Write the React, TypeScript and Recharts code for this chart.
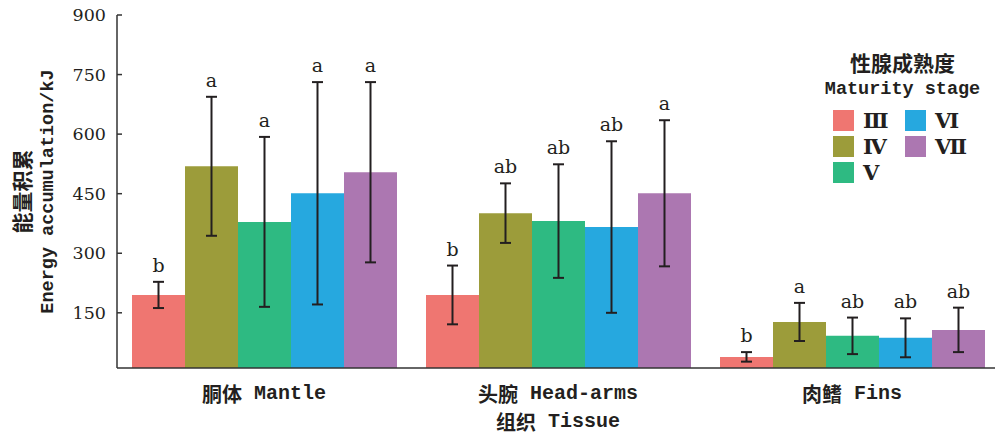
import { Bar, BarChart, ErrorBar, LabelList, XAxis, YAxis } from "recharts";

const TISSUES = ["胴体 Mantle", "头腕 Head-arms", "肉鳍 Fins"];
const STAGES = ["Ⅲ", "Ⅳ", "Ⅴ", "Ⅵ", "Ⅶ"];
const COLORS = ["#EF7671", "#9C9C3A", "#2EBA82", "#26A8DF", "#AC77B1"];

// mean per stage, one value per tissue
const MEANS = [
  [195, 195, 39],
  [519, 401, 127],
  [379, 381, 92],
  [451, 366, 87],
  [504, 451, 107],
];
const ERRORS = [
  [33, 74, 12],
  [175, 75, 48],
  [214, 143, 46],
  [280, 216, 49],
  [227, 184, 56],
];
const LETTERS = [
  ["b", "b", "b"],
  ["a", "ab", "a"],
  ["a", "ab", "ab"],
  ["a", "ab", "ab"],
  ["a", "a", "ab"],
];
const Y_TICKS = [150, 300, 450, 600, 750, 900];
const Y_MIN = 11;

const CJK = "'Noto Sans CJK SC', sans-serif";
const MONO = "'Liberation Mono', monospace";
const SERIF = "'DejaVu Serif', serif";
const INK = "#231F20";

const data = TISSUES.map((tissue, i) => {
  const row: Record<string, string | number> = { tissue };
  STAGES.forEach((_, s) => {
    row[`m${s}`] = MEANS[s][i];
    row[`e${s}`] = ERRORS[s][i];
  });
  return row;
});

function letterLabel(s: number) {
  return (props: any) => {
    const vb = props.viewBox ?? props;
    const { x, y, width, height } = vb;
    const index = props.index ?? 0;
    const mean = MEANS[s][index];
    const pxPerUnit = height / (mean - Y_MIN);
    const top = y - ERRORS[s][index] * pxPerUnit;
    return (
      <text x={x + width / 2} y={top - 10} textAnchor="middle" fontFamily={SERIF} fontSize={19} fill={INK}>
        {LETTERS[s][index]}
      </text>
    );
  };
}

function TissueTick({ x, y, payload }: any) {
  const [zh, en] = String(payload.value).split(" ");
  return (
    <text x={x} y={y + 25} textAnchor="middle" dominantBaseline="central" fontSize={20} fill={INK} style={{ whiteSpace: "pre" }}>
      <tspan fontFamily={CJK} fontWeight={700}>{zh}</tspan>
      <tspan fontFamily={MONO} fontWeight={700}>{" " + en}</tspan>
    </text>
  );
}

function YTitle(props: any) {
  const vb = props.viewBox;
  const cy = vb.y + vb.height / 2;
  const x1 = vb.x - 36;
  const x2 = vb.x - 9;
  return (
    <g>
      <text x={x1} y={cy} transform={`rotate(-90 ${x1} ${cy})`} textAnchor="middle" dominantBaseline="central" fontFamily={CJK} fontWeight={700} fontSize={21} fill={INK}>
        能量积累
      </text>
      <text x={x2} y={cy} transform={`rotate(-90 ${x2} ${cy})`} textAnchor="middle" dominantBaseline="central" fontFamily={MONO} fontWeight={700} fontSize={18.5} fill={INK}>
        Energy accumulation/kJ
      </text>
    </g>
  );
}

function XTitle(props: any) {
  const vb = props.viewBox;
  return (
    <text x={vb.x + vb.width / 2} y={421} textAnchor="middle" dominantBaseline="central" fontSize={20} fill={INK} style={{ whiteSpace: "pre" }}>
      <tspan fontFamily={CJK} fontWeight={700}>组织</tspan>
      <tspan fontFamily={MONO} fontWeight={700}>{" Tissue"}</tspan>
    </text>
  );
}

function StageLegend() {
  return (
    <div style={{ position: "absolute", left: 810, top: 48, width: 185, color: INK }}>
      <div style={{ textAlign: "center", fontFamily: CJK, fontWeight: 700, fontSize: 21, lineHeight: "28px" }}>性腺成熟度</div>
      <div style={{ textAlign: "center", fontFamily: MONO, fontWeight: 700, fontSize: 18.5, lineHeight: "28px" }}>Maturity stage</div>
      {STAGES.map((st, s) => {
        const col = s < 3 ? 0 : 1;
        const row = s < 3 ? s : s - 3;
        return (
          <div key={st} style={{ position: "absolute", left: 23 + col * 72, top: 62 + row * 26, display: "flex", alignItems: "center" }}>
            <span style={{ width: 21, height: 21, background: COLORS[s], display: "inline-block" }} />
            <span style={{ marginLeft: 9, fontFamily: SERIF, fontWeight: 700, fontSize: 21, lineHeight: "21px" }}>{st}</span>
          </div>
        );
      })}
    </div>
  );
}

export default function App() {
  return (
    <div style={{ position: "absolute", left: 0, top: 0, width: 995, height: 439, background: "#fff" }}>
      <BarChart width={995} height={439} data={data} margin={{ top: 15, right: -4, left: 57, bottom: 41 }} barGap={0}>
        <XAxis
          dataKey="tissue"
          height={30}
          tickLine={false}
          tickSize={0}
          tickMargin={0}
          axisLine={{ stroke: "#333", strokeWidth: 1.5 }}
          tick={<TissueTick />}
          label={{ content: (p: any) => <XTitle {...p} /> }}
        />
        <YAxis
          type="number"
          width={60}
          domain={[Y_MIN, 900]}
          ticks={Y_TICKS}
          allowDataOverflow
          axisLine={{ stroke: "#333", strokeWidth: 1.5 }}
          tickLine={{ stroke: "#333", strokeWidth: 1.5 }}
          tickSize={-5}
          tickMargin={16}
          tick={{ fontFamily: SERIF, fontSize: 17.5, fill: INK }}
          label={{ content: (p: any) => <YTitle {...p} /> }}
        />
        {STAGES.map((st, s) => (
          <Bar key={st} dataKey={`m${s}`} name={st} fill={COLORS[s]} barSize={53} isAnimationActive={false}>
            <ErrorBar dataKey={`e${s}`} width={5.5} strokeWidth={2} stroke={INK} direction="y" />
            <LabelList dataKey={`m${s}`} content={letterLabel(s)} />
          </Bar>
        ))}
      </BarChart>
      <StageLegend />
    </div>
  );
}
